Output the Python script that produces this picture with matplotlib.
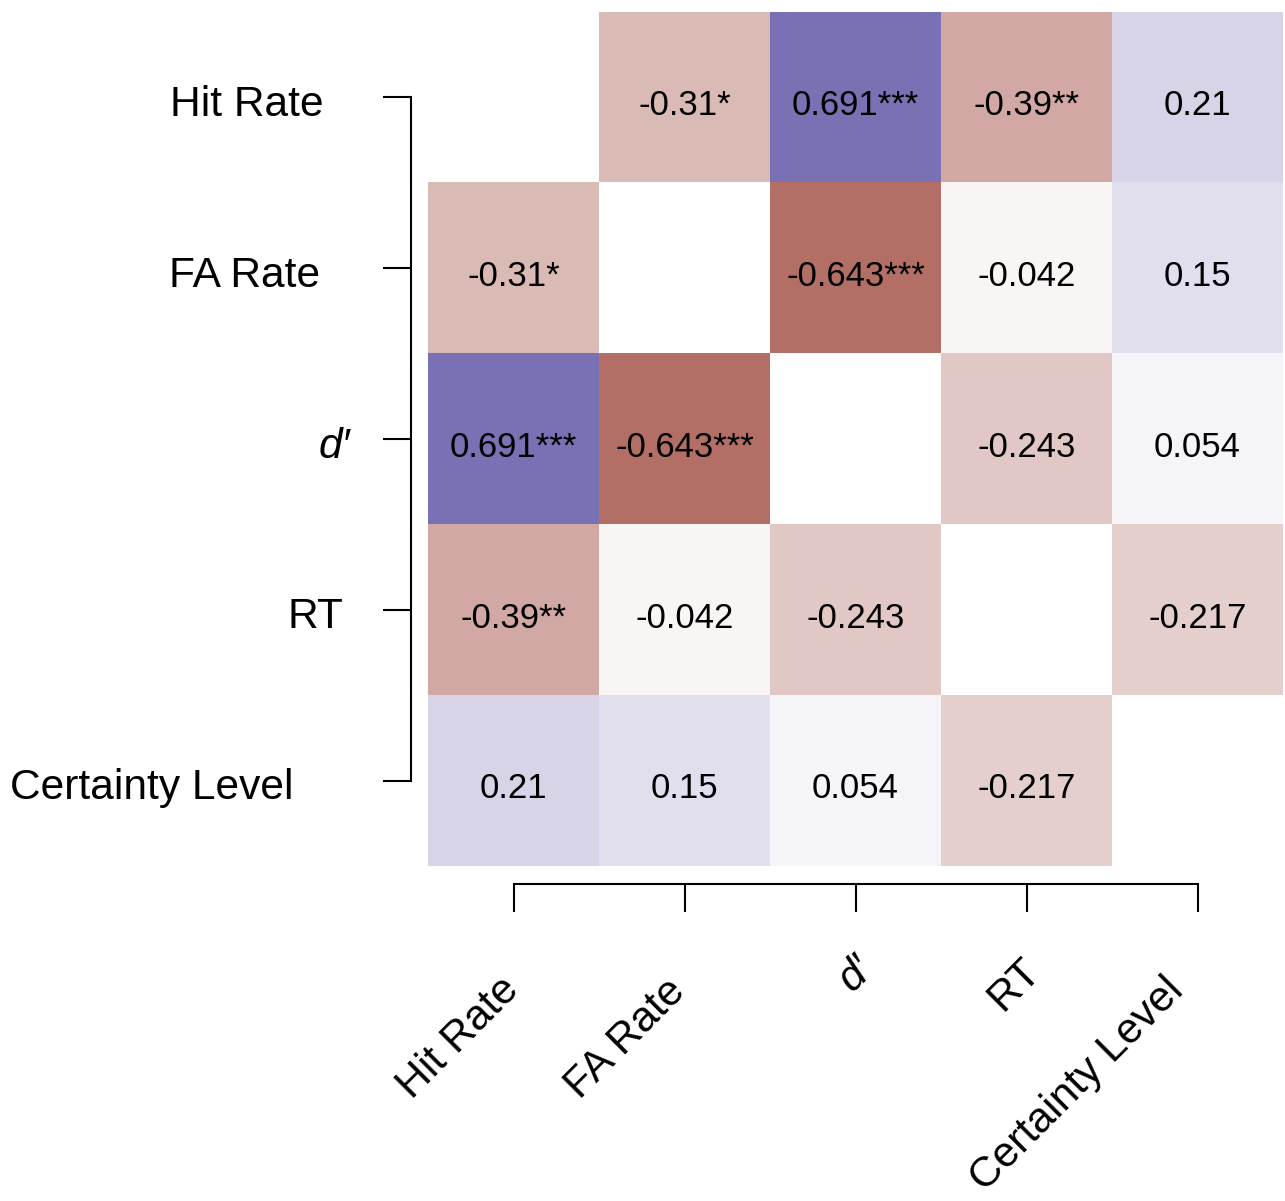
import numpy as np
import matplotlib
matplotlib.use("Agg")
import matplotlib.pyplot as plt
from matplotlib.colors import LinearSegmentedColormap
from matplotlib.transforms import ScaledTranslation

plt.rcParams['font.family'] = ['Liberation Sans', 'DejaVu Sans']

variables = ["Hit Rate", "FA Rate", "d\u2032", "RT", "Certainty Level"]
# correlation matrix (diagonal left blank)
corr = np.array([
    [np.nan, -0.31, 0.691, -0.39, 0.21],
    [-0.31, np.nan, -0.643, -0.042, 0.15],
    [0.691, -0.643, np.nan, -0.243, 0.054],
    [-0.39, -0.042, -0.243, np.nan, -0.217],
    [0.21, 0.15, 0.054, -0.217, np.nan],
])
labels = [
    ["", "-0.31*", "0.691***", "-0.39**", "0.21"],
    ["-0.31*", "", "-0.643***", "-0.042", "0.15"],
    ["0.691***", "-0.643***", "", "-0.243", "0.054"],
    ["-0.39**", "-0.042", "-0.243", "", "-0.217"],
    ["0.21", "0.15", "0.054", "-0.217", ""],
]

# small per-label nudges (pixels) to mimic the original label placement
ylab_dx = [-20, -23, 7, 0, -50]
xlab_shift = [(-1, -16), (-5, -18), (12, 5), (8, 3), (-20, -17)]

cmap = LinearSegmentedColormap.from_list(
    "rb", [(138/255, 33/255, 19/255), (1, 1, 1), (64/255, 51/255, 149/255)])
cmap.set_bad("white")

DPI = 100
fig = plt.figure(figsize=(12.85, 12.01), dpi=DPI)
ax = fig.add_axes([428/1285, 1 - 866/1201, 855/1285, 854/1201])
ax.imshow(np.ma.masked_invalid(corr), cmap=cmap, vmin=-1, vmax=1,
          interpolation="nearest", aspect="auto")

n = len(variables)
for i in range(n):
    for j in range(n):
        if labels[i][j]:
            ax.annotate(labels[i][j], (j, i), xytext=(0, -3.5),
                        textcoords="offset points", ha="center",
                        va="center_baseline", fontsize=25, color="black")

ax.spines["top"].set_visible(False)
ax.spines["right"].set_visible(False)
ax.spines["left"].set_position(("outward", 12.2))
ax.spines["bottom"].set_position(("outward", 13))
for s in ["left", "bottom"]:
    ax.spines[s].set_linewidth(1.5)
ax.tick_params(axis="both", length=20, width=1.5, color="black", labelsize=30.6)
ax.tick_params(axis="y", pad=28.8)
ax.tick_params(axis="x", pad=40)

ax.set_xticks(range(n))
ax.set_yticks(range(n))
ax.set_xticklabels(variables)
ax.set_yticklabels(variables)
ax.spines["left"].set_bounds(0, n - 1)
ax.spines["bottom"].set_bounds(0, n - 1)
for k, lab in enumerate(ax.get_xticklabels()):
    lab.set_rotation(45)
    lab.set_rotation_mode("anchor")
    lab.set_ha("right")
    lab.set_va("center")
    dx, dy = xlab_shift[k]
    lab.set_transform(lab.get_transform() +
                      ScaledTranslation(dx / DPI, dy / DPI, fig.dpi_scale_trans))
for k, lab in enumerate(ax.get_yticklabels()):
    lab.set_transform(lab.get_transform() +
                      ScaledTranslation(ylab_dx[k] / DPI, -3 / DPI, fig.dpi_scale_trans))
for lab in ax.get_xticklabels() + ax.get_yticklabels():
    lab.set_fontsize(30.6)
    if lab.get_text() == "d\u2032":
        lab.set_fontstyle("italic")

fig.savefig("out.png", dpi=DPI)
